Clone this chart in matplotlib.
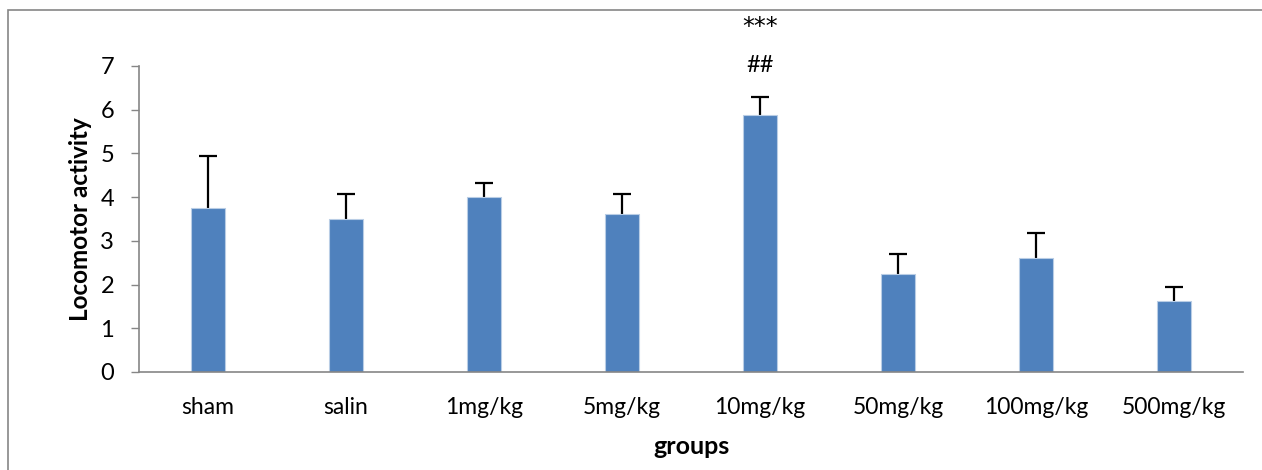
import matplotlib.pyplot as plt
from matplotlib.patches import Rectangle

groups = ['sham', 'salin', '1mg/kg', '5mg/kg', '10mg/kg', '50mg/kg', '100mg/kg', '500mg/kg']
means = [3.75, 3.50, 4.00, 3.62, 5.87, 2.25, 2.60, 1.62]
errors = [1.20, 0.57, 0.33, 0.46, 0.41, 0.45, 0.57, 0.33]
yticks = [0, 1, 2, 3, 4, 5, 6, 7]

plt.rcParams['font.family'] = ['Lato', 'DejaVu Sans']

fig = plt.figure(figsize=(12.62, 4.70), dpi=100)
ax = fig.add_axes([139 / 1262, 1 - 372 / 470, 1104 / 1262, 306 / 470])

x = list(range(len(groups)))
ax.bar(x, means, width=0.25, color='#4F81BD', edgecolor='#B9CDE5', linewidth=0.8, zorder=2)
# upper error bars only
_, caps, _ = ax.errorbar(x, means, yerr=[[0] * len(errors), errors], fmt='none',
                         ecolor='black', elinewidth=1.6, capsize=6.5, capthick=1.6,
                         zorder=1)
caps[0].set_visible(False)  # lower cap

ax.set_xlim(-0.5, len(groups) - 0.5)
ax.set_ylim(0, 7)
ax.set_yticks(yticks)
ax.set_xticks(x)
ax.set_xticklabels(groups)
ax.tick_params(axis='x', length=0, pad=18, labelsize=16.5)
ax.tick_params(axis='y', length=6, width=1, color='#868686', pad=12, labelsize=17)

for side in ['top', 'right']:
    ax.spines[side].set_visible(False)
for side in ['left', 'bottom']:
    ax.spines[side].set_color('#868686')
    ax.spines[side].set_linewidth(1.2)

ax.set_ylabel('Locomotor activity', fontsize=17.5, fontweight='bold', labelpad=6)
ax.set_xlabel('groups', fontsize=18, fontweight='bold', labelpad=12)

# significance marks above 10mg/kg
ax.text(4, 7.02, '##', ha='center', va='center', fontsize=17, clip_on=False)
ax.text(4, 7.9, '***', ha='center', va='center', fontsize=17, clip_on=False,
        family='DejaVu Sans')

# outer chart frame
fig.patches.append(Rectangle((8 / 1262, -0.1), 1.2, 1 - 10 / 470 + 0.1,
                             transform=fig.transFigure, fill=False,
                             edgecolor='#868686', linewidth=1.2))

fig.savefig('out.png', dpi=100)
